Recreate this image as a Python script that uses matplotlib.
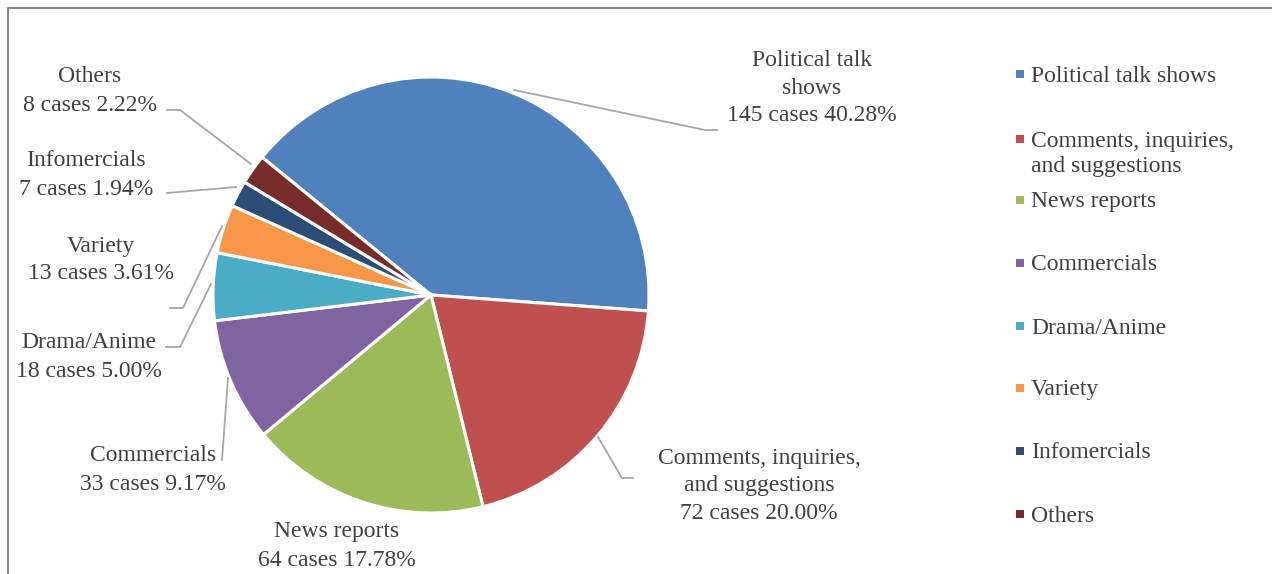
import matplotlib.pyplot as plt
from matplotlib.patches import Rectangle

# data
categories = ["Political talk shows", "Comments, inquiries, and suggestions", "News reports",
              "Commercials", "Drama/Anime", "Variety", "Infomercials", "Others"]
cases = [145, 72, 64, 33, 18, 13, 7, 8]
percents = ["40.28%", "20.00%", "17.78%", "9.17%", "5.00%", "3.61%", "1.94%", "2.22%"]
pie_names = ["Political talk\nshows", "Comments, inquiries,\nand suggestions", "News reports",
             "Commercials", "Drama/Anime", "Variety", "Infomercials", "Others"]
legend_names = ["Political talk shows", "Comments, inquiries,\nand suggestions", "News reports",
                "Commercials", "Drama/Anime", "Variety", "Infomercials", "Others"]
colors = ["#4F81BD", "#C0504D", "#9BBB59", "#8064A2", "#4BACC6", "#F79646", "#2C4D75", "#772C2A"]

W, H = 1272, 574
plt.rcParams['font.family'] = ['Liberation Serif', 'DejaVu Serif']
TXT = "#404040"
FS = 17


def Y(p):
    # pixel row -> data y
    return H - p


fig = plt.figure(figsize=(W / 100, H / 100), dpi=100)
ax = fig.add_axes([0, 0, 1, 1])

ax.pie(cases, colors=colors, startangle=140.8, counterclock=False,
       center=(431, Y(295)), radius=218, frame=True,
       wedgeprops=dict(edgecolor='white', linewidth=2.2))
ax.set_xlim(0, W)
ax.set_ylim(0, H)
ax.axis('off')

# chart frame (top and left edges visible)
ax.plot([7.5, 7.5, W], [0, Y(7.5), Y(7.5)], color="#868686", lw=1.5, solid_capstyle='butt')

# data labels: text centre and leader line (pixel coords)
label_pos = [(812, 88), (759, 486), (337, 546), (153, 470), (89, 357), (101, 260), (86, 175), (90, 91)]
leaders = [
    [(514, 90), (705, 130), (717, 130)],
    [(598, 437), (622, 478), (633, 478)],
    None,
    [(228, 378), (222, 460)],
    [(211, 284), (180, 347), (166, 347)],
    [(222, 226), (183, 308), (170, 308)],
    [(236, 187), (167, 193)],
    [(251, 164), (180, 110), (167, 110)],
]
spacing = [1.42, 1.42, 1.45, 1.45, 1.45, 1.4, 1.45, 1.45]
for name, n, pct, (px, py), ld, ls in zip(pie_names, cases, percents, label_pos, leaders, spacing):
    ax.text(px, Y(py), f"{name}\n{n} cases {pct}", ha='center', va='center',
            multialignment='center', fontsize=FS, color=TXT, linespacing=ls)
    if ld:
        ax.plot([p[0] for p in ld], [Y(p[1]) for p in ld], color="#A6A6A6", lw=1.3)

# legend
marker_y = [74, 139, 200, 263, 326, 388, 451, 514]
text_y = [76, 154, 202, 265, 328, 390, 453, 516]
for name, c, my, ty in zip(legend_names, colors, marker_y, text_y):
    ax.add_patch(Rectangle((1016, Y(my) - 4), 8, 8, facecolor=c, edgecolor='none'))
    ax.text(1031, Y(ty), name, ha='left', va='center', fontsize=FS, color=TXT, linespacing=1.3)

fig.savefig("out.png", dpi=100, facecolor='white')
